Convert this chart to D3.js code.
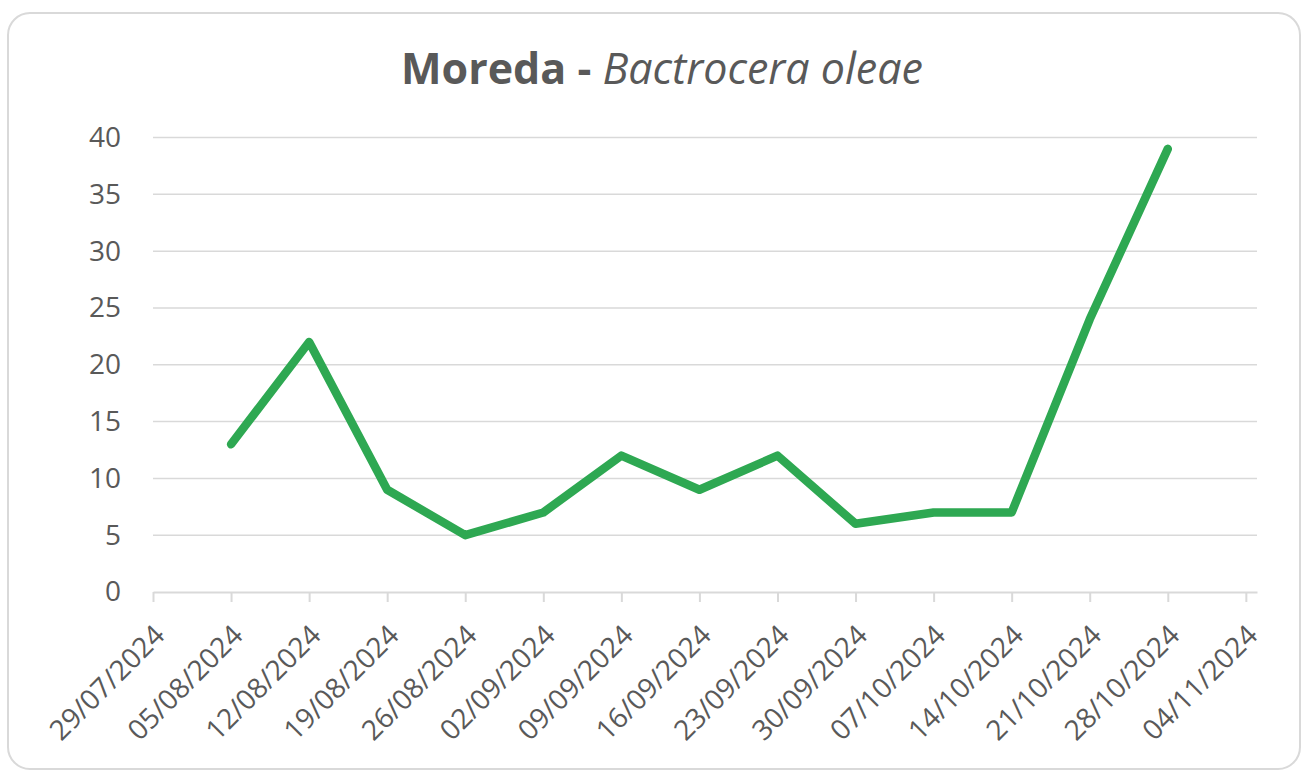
<!DOCTYPE html>
<html>
<head>
<meta charset="utf-8">
<script src="https://cdn.jsdelivr.net/npm/d3@7"></script>
<style>
  body { margin: 0; background: #fff; }
  svg { display: block; }
  svg text { font-family: "Open Sans", sans-serif; }
</style>
</head>
<body>
<svg></svg>
<script>
var svg = d3.select("svg");
var width = 1304;
var height = 774;

// sample dates and counts
var dates = ["05/08/2024", "12/08/2024", "19/08/2024", "26/08/2024", "02/09/2024",
             "09/09/2024", "16/09/2024", "23/09/2024", "30/09/2024", "07/10/2024",
             "14/10/2024", "21/10/2024", "28/10/2024"];
var counts = [13, 22, 9, 5, 7, 12, 9, 12, 6, 7, 7, 24, 39];

var tickLabels = ["29/07/2024", "05/08/2024", "12/08/2024", "19/08/2024", "26/08/2024",
                  "02/09/2024", "09/09/2024", "16/09/2024", "23/09/2024", "30/09/2024",
                  "07/10/2024", "14/10/2024", "21/10/2024", "28/10/2024", "04/11/2024"];
var yTicks = [0, 5, 10, 15, 20, 25, 30, 35, 40];

var parse = d3.timeParse("%d/%m/%Y");
var fmt = d3.timeFormat("%d/%m/%Y");

var data = dates.map((d, i) => ({date: parse(d), value: counts[i]}));

var plotLeft = 153, plotRight = 1257, plotTop = 137.5, plotBottom = 592;

svg.attr("width", width).attr("height", height);

// chart frame
svg.append("rect")
    .attr("x", 8).attr("y", 13)
    .attr("width", width - 12).attr("height", height - 18)
    .attr("rx", 22)
    .attr("fill", "#fff")
    .attr("stroke", "#d9d9d9")
    .attr("stroke-width", 2);

var x = d3.scaleTime()
    .domain([parse("29/07/2024"), parse("05/11/2024")])
    .range([plotLeft, plotRight]);

var y = d3.scaleLinear()
    .domain([0, 40])
    .range([plotBottom, plotTop]);

// gridlines
svg.append("g")
  .selectAll("line")
  .data(yTicks.filter(v => v > 0))
  .join("line")
    .attr("x1", plotLeft).attr("x2", plotRight)
    .attr("y1", d => y(d)).attr("y2", d => y(d))
    .attr("stroke", "#d9d9d9")
    .attr("stroke-width", 1.5);

// y axis labels
var yAxis = d3.axisLeft(y).tickValues(yTicks).tickSize(0).tickPadding(0);
var gy = svg.append("g")
    .attr("transform", "translate(" + (plotLeft - 32) + ",0)")
    .call(yAxis);
gy.select(".domain").remove();
gy.selectAll("text")
    .attr("fill", "#595959")
    .style("font-size", "28px");

// x axis
var xAxis = d3.axisBottom(x)
    .tickValues(tickLabels.map(parse))
    .tickFormat(fmt)
    .tickSize(10)
    .tickSizeOuter(0);
var gx = svg.append("g")
    .attr("transform", "translate(0," + plotBottom + ")")
    .call(xAxis);
gx.select(".domain").attr("stroke", "#d9d9d9").attr("stroke-width", 2);
gx.selectAll(".tick line").attr("stroke", "#d9d9d9").attr("stroke-width", 2);
gx.selectAll("text")
    .attr("fill", "#595959")
    .style("font-size", "28px")
    .style("text-anchor", "end")
    .attr("transform", "translate(6,38) rotate(-45)")
    .attr("x", 0).attr("y", 0).attr("dy", "0.35em");

// series line
var line = d3.line()
    .x(d => x(d.date))
    .y(d => y(d.value));

svg.append("path")
    .attr("fill", "none")
    .attr("stroke", "#2ea852")
    .attr("stroke-width", 8.5)
    .attr("stroke-linejoin", "round")
    .attr("stroke-linecap", "round")
    .attr("d", line(data));

// title
var title = svg.append("text")
    .attr("x", 662).attr("y", 84)
    .attr("text-anchor", "middle")
    .attr("fill", "#595959")
    .style("font-size", "43px");
title.append("tspan").style("font-weight", "bold").text("Moreda - ");
title.append("tspan").style("font-style", "italic").text("Bactrocera oleae");
</script>
</body>
</html>
